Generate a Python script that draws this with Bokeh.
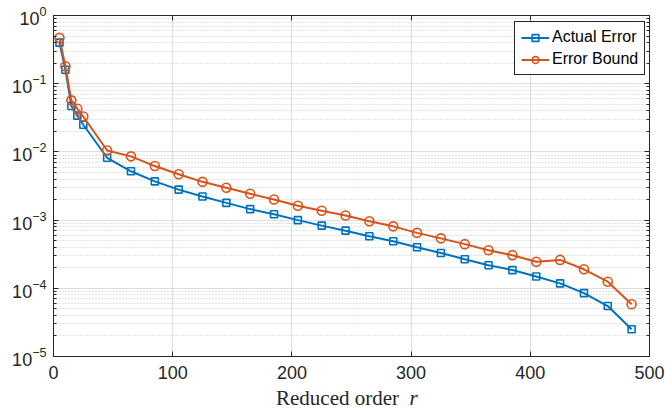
from bokeh.plotting import figure
from bokeh.models import (FixedTicker, LinearAxis, LogAxis, Legend, LegendItem,
                          Range1d, Div)
from bokeh.layouts import column
from bokeh.embed import file_html
from bokeh.resources import INLINE

# reduced orders and the corresponding errors
order = [5, 10, 15, 20, 25, 45, 65, 85, 105, 125, 145, 165, 185, 205, 225,
         245, 265, 285, 305, 325, 345, 365, 385, 405, 425, 445, 465, 485]
actual_error = [0.40, 0.16, 0.047, 0.034, 0.025, 0.0082, 0.0052, 0.0037,
                0.0028, 0.00222, 0.00179, 0.00145, 0.00122, 0.00100, 0.00083,
                0.00070, 0.00058, 0.00049, 0.00040, 0.00033, 0.000267,
                0.000218, 0.000185, 0.000149, 0.000118, 0.000085, 0.000055,
                0.0000251]
error_bound = [0.47, 0.18, 0.057, 0.043, 0.033, 0.0105, 0.0086, 0.0062,
               0.0047, 0.00364, 0.00298, 0.00243, 0.0020, 0.00162, 0.00137,
               0.00117, 0.00096, 0.00081, 0.00065, 0.00054, 0.000444,
               0.000362, 0.000306, 0.000245, 0.000261, 0.000190, 0.000125,
               0.0000585]

x_ticks = [0, 100, 200, 300, 400, 500]
y_decades = [1e-5, 1e-4, 1e-3, 1e-2, 1e-1, 1e0]

BLUE = "#0072BD"
ORANGE = "#D95319"
AXC = "#262626"
TICK_FONT = "Liberation Sans"

y_minor = [k * d for d in y_decades[:-1] for k in range(2, 10)]

p = figure(width=665, height=386, output_backend="svg", toolbar_location=None,
           y_axis_type="log", x_range=Range1d(0, 500), y_range=Range1d(1e-5, 1),
           min_border_left=53, min_border_right=16, min_border_top=15,
           min_border_bottom=30, margin=(0, 0, 0, 0))
p.background_fill_color = "white"
p.border_fill_color = "white"
p.outline_line_color = AXC
p.outline_line_width = 1

xt = FixedTicker(ticks=x_ticks, minor_ticks=[])
yt = FixedTicker(ticks=y_decades, minor_ticks=y_minor)


def style_ticks(ax):
    ax.axis_line_color = AXC
    ax.major_tick_line_color = AXC
    ax.minor_tick_line_color = AXC
    ax.major_tick_in = 5
    ax.major_tick_out = 0
    ax.minor_tick_in = 3
    ax.minor_tick_out = 0


for ax in (p.xaxis[0], p.yaxis[0]):
    style_ticks(ax)
    ax.major_label_text_font = TICK_FONT
    ax.major_label_text_font_size = "18px"
    ax.major_label_text_color = AXC

p.xaxis[0].ticker = xt
p.yaxis[0].ticker = yt
p.xaxis[0].major_label_standoff = 9
p.yaxis[0].major_label_standoff = 7

# box axes on top and right, ticks only (labels kept tiny and transparent)
top = LinearAxis(ticker=xt)
right = LogAxis(ticker=yt)
for ax in (top, right):
    style_ticks(ax)
    ax.major_label_text_font_size = "1px"
    ax.major_label_text_alpha = 0
    ax.major_label_standoff = 0
p.add_layout(top, "above")
p.add_layout(right, "right")

# grid
p.xgrid.grid_line_color = AXC
p.xgrid.grid_line_alpha = 0.15
p.ygrid.grid_line_color = AXC
p.ygrid.grid_line_alpha = 0.15
p.ygrid.minor_grid_line_color = AXC
p.ygrid.minor_grid_line_alpha = 0.25
p.ygrid.minor_grid_line_dash = "1 2"

# series
l1 = p.line(order, actual_error, line_color=BLUE, line_width=2)
m1 = p.scatter(order, actual_error, marker="square", size=7,
               line_color=BLUE, line_width=1.6, fill_alpha=0)
l2 = p.line(order, error_bound, line_color=ORANGE, line_width=2)
m2 = p.scatter(order, error_bound, marker="circle", size=9,
               line_color=ORANGE, line_width=1.6, fill_alpha=0)

legend = Legend(items=[LegendItem(label="Actual Error", renderers=[l1, m1]),
                       LegendItem(label="Error Bound", renderers=[l2, m2])],
                location=(461, 281))
legend.label_text_font = TICK_FONT
legend.label_text_font_size = "16px"
legend.label_text_color = "black"
legend.border_line_color = AXC
legend.border_line_width = 1
legend.border_line_alpha = 1
legend.background_fill_alpha = 1
legend.padding = 6
legend.spacing = 4
legend.glyph_width = 28
legend.glyph_height = 17
legend.label_height = 17
legend.label_standoff = 3
legend.margin = 0
p.add_layout(legend, "center")

# x-axis title, with the italic r
xlabel = Div(text="Reduced order&nbsp;&nbsp;<i>r</i>", width=389, height=31,
             margin=(0, 0, 0, 276),
             styles={"font-family": "Liberation Serif", "font-size": "21px",
                     "color": AXC, "line-height": "22px", "white-space": "nowrap",
                     "padding-top": "1px"})

layout = column(p, xlabel, spacing=0)
open("out.html", "w").write(file_html(layout, INLINE))
